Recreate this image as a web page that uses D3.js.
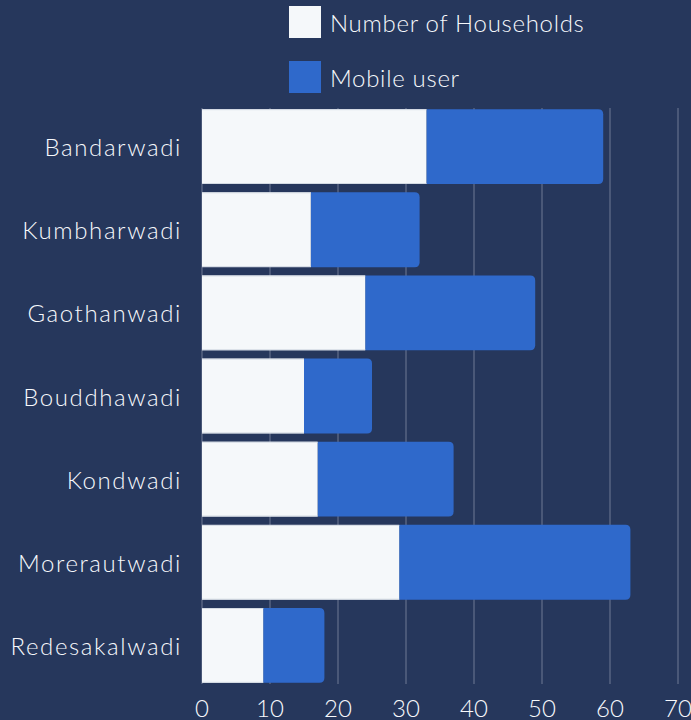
<!DOCTYPE html>
<html><head><meta charset="utf-8">
<script src="https://cdn.jsdelivr.net/npm/d3@7/dist/d3.min.js"></script>
<style>
html,body{margin:0;padding:0;background:#26375c;}
svg{display:block;}
text{font-family:Lato,"Open Sans",sans-serif;fill:#f7f9fc;font-weight:300;}
</style></head>
<body>
<svg id="chart" width="691" height="720"></svg>
<script>
const categories = ["Bandarwadi","Kumbharwadi","Gaothanwadi","Bouddhawadi","Kondwadi","Morerautwadi","Redesakalwadi"];
const households = [33,16,24,15,17,29,9];
const mobileUsers = [26,16,25,10,20,34,9];
const seriesNames = ["Number of Households","Mobile user"];
const seriesColors = ["#f5f8fa","#2f69cb"];
const xTicks = [0,10,20,30,40,50,60,70];

const svg = d3.select("#chart");
const W = 691, H = 720;
svg.append("rect").attr("width",W).attr("height",H).attr("fill","#26375c");

const x = d3.scaleLinear().domain([0,70]).range([202,678]);
const y = d3.scaleBand().domain(categories).range([105,687]).paddingInner(0.1).paddingOuter(0.05);

// grid
svg.append("g").selectAll("line").data(xTicks).join("line")
  .attr("x1",d=>x(d)).attr("x2",d=>x(d))
  .attr("y1",108).attr("y2",684)
  .attr("stroke","#6f7a94").attr("stroke-width",1);

const rows = categories.map((c,i)=>({c, h:households[i], m:mobileUsers[i]}));

function roundRight(x0,y0,w,h,r){
  return `M${x0},${y0}H${x0+w-r}Q${x0+w},${y0} ${x0+w},${y0+r}V${y0+h-r}Q${x0+w},${y0+h} ${x0+w-r},${y0+h}H${x0}Z`;
}
svg.append("g").selectAll("path").data(rows).join("path")
  .attr("d",d=>roundRight(x(d.h), y(d.c), x(d.h+d.m)-x(d.h), y.bandwidth(), 5))
  .attr("fill",seriesColors[1]);

svg.append("g").selectAll("rect").data(rows).join("rect")
  .attr("x",x(0)).attr("y",d=>y(d.c))
  .attr("width",d=>x(d.h)-x(0)).attr("height",y.bandwidth())
  .attr("fill",seriesColors[0]);
svg.append("g").selectAll("path").data(rows).join("path")
  .attr("d",d=>`M${x(0)},${y(d.c)+0.5}H${x(d.h)}M${x(0)},${y(d.c)+y.bandwidth()-0.5}H${x(d.h)}`)
  .attr("stroke","#d3dae3").attr("stroke-width",1).attr("fill","none");

// category labels
svg.append("g").selectAll("text").data(categories).join("text")
  .attr("x",182).attr("y",d=>y(d)+y.bandwidth()/2)
  .attr("text-anchor","end").attr("dominant-baseline","central")
  .attr("font-size",24).attr("letter-spacing","1.6px").text(d=>d);

// x tick labels
svg.append("g").selectAll("text").data(xTicks).join("text")
  .attr("x",d=>x(d)).attr("y",707)
  .attr("text-anchor","middle").attr("dominant-baseline","central")
  .attr("font-size",24).text(d=>d);

// legend
const lg = svg.append("g");
seriesNames.forEach((n,i)=>{
  const yy = 6 + i*55;
  lg.append("rect").attr("x",289).attr("y",yy).attr("width",32).attr("height",32).attr("fill",seriesColors[i]);
  lg.append("text").attr("x",330).attr("y",yy+16).attr("dominant-baseline","central")
    .attr("font-size",24).attr("letter-spacing","0.7px").text(n);
});
</script>
</body></html>
